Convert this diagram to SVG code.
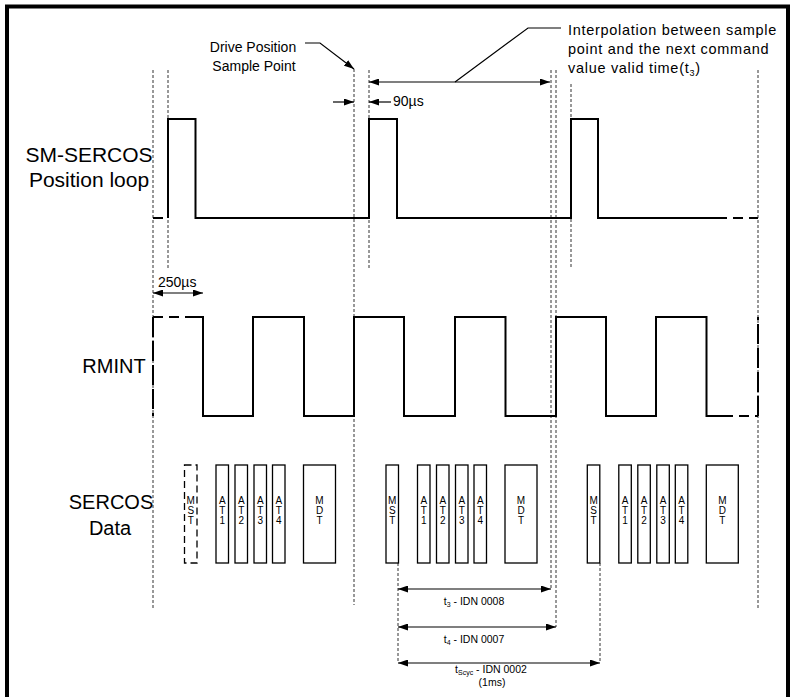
<svg xmlns="http://www.w3.org/2000/svg" width="794" height="697" viewBox="0 0 794 697">
<style>
text{font-family:"Liberation Sans",Arial,sans-serif;fill:#000}
.lbl{font-size:20px;text-anchor:middle}
.lbl2{font-size:21px;text-anchor:middle}
.note{font-size:14px}
.interp{font-size:14.5px;letter-spacing:0.7px}
.small{font-size:10.5px}
.box{fill:#fff;stroke:#000;stroke-width:1.3}
.boxd{fill:#fff;stroke:#000;stroke-width:1.3;stroke-dasharray:7 4}
.bt{font-size:10px;text-anchor:middle}
.guide{fill:none;stroke:#333;stroke-width:1;stroke-dasharray:3 2}
.sig{fill:none;stroke:#000;stroke-width:2}
.sigd{fill:none;stroke:#000;stroke-width:2;stroke-dasharray:10 6}
.sigl{fill:none;stroke:#000;stroke-width:2;stroke-dasharray:20 4}
.arr{fill:none;stroke:#000;stroke-width:1.2}
</style>
<defs>
<marker id="ah" viewBox="0 0 10 7" refX="10" refY="3.5" markerWidth="10" markerHeight="7" markerUnits="userSpaceOnUse" orient="auto-start-reverse"><path d="M0,0 L10,3.5 L0,7z" fill="#000"/></marker>
</defs>
<rect x="7" y="6.5" width="781" height="720" fill="none" stroke="#000" stroke-width="4"/>

<g id="guides">
<line class="guide" x1="153" y1="70" x2="153" y2="610"/>
<line class="guide" x1="168" y1="70" x2="168" y2="268"/>
<line class="guide" x1="354" y1="69" x2="354" y2="605"/>
<line class="guide" x1="369" y1="70" x2="369" y2="268"/>
<line class="guide" x1="551" y1="70" x2="551" y2="589"/>
<line class="guide" x1="556" y1="70" x2="556" y2="627"/>
<line class="guide" x1="571" y1="84" x2="571" y2="268"/>
<line class="guide" x1="758" y1="70" x2="758" y2="610"/>
<line class="guide" x1="398" y1="563" x2="398" y2="663"/>
<line class="guide" x1="600" y1="563" x2="600" y2="663"/>
</g>

<g id="labels">
<text class="lbl2" x="89" y="162">SM-SERCOS</text>
<text class="lbl2" x="89" y="187">Position loop</text>
<text class="lbl" x="114" y="373">RMINT</text>
<text class="lbl" x="111" y="509">SERCOS</text>
<text class="lbl" x="110" y="535">Data</text>
</g>

<g id="position-loop">
<path class="sigd" d="M153,218 H168"/>
<path class="sig" d="M168,218 V119 H195.5 V218 H369 V119 H397 V218 H571 V119 H598 V218 H717"/>
<path class="sigd" d="M717,218 H758"/>
</g>

<g id="rmint">
<path class="sigd" d="M153,317 H190"/>
<path class="sigl" d="M153,317 V416"/>
<path class="sig" d="M190,317 H203 V416 H253 V317 H304 V416 H354 V317 H404 V416 H455 V317 H505.5 V416 H556 V317 H606 V416 H656 V317 H706.5 V416 H723"/>
<path class="sigd" d="M723,416 H758"/>
<path class="sigl" d="M758,416 V317"/>
</g>

<g id="sercos-cycle-1">
<g id="mst-1"><rect class="boxd" x="184.5" y="465" width="12.5" height="98"/><text class="bt" x="190.75" y="504">M<tspan x="190.75" dy="10">S</tspan><tspan x="190.75" dy="10">T</tspan></text></g>
<g id="at1-1"><rect class="box" x="216" y="465" width="12.5" height="98"/><text class="bt" x="222.25" y="504">A<tspan x="222.25" dy="10">T</tspan><tspan x="222.25" dy="10">1</tspan></text></g>
<g id="at2-1"><rect class="box" x="235" y="465" width="12.5" height="98"/><text class="bt" x="241.25" y="504">A<tspan x="241.25" dy="10">T</tspan><tspan x="241.25" dy="10">2</tspan></text></g>
<g id="at3-1"><rect class="box" x="254" y="465" width="12.5" height="98"/><text class="bt" x="260.25" y="504">A<tspan x="260.25" dy="10">T</tspan><tspan x="260.25" dy="10">3</tspan></text></g>
<g id="at4-1"><rect class="box" x="272.5" y="465" width="12.5" height="98"/><text class="bt" x="278.75" y="504">A<tspan x="278.75" dy="10">T</tspan><tspan x="278.75" dy="10">4</tspan></text></g>
<g id="mdt-1"><rect class="box" x="303.5" y="465" width="32" height="98"/><text class="bt" x="319.5" y="504">M<tspan x="319.5" dy="10">D</tspan><tspan x="319.5" dy="10">T</tspan></text></g>
</g>

<g id="sercos-cycle-2">
<g id="mst-2"><rect class="box" x="386" y="465" width="12.5" height="98"/><text class="bt" x="392.25" y="504">M<tspan x="392.25" dy="10">S</tspan><tspan x="392.25" dy="10">T</tspan></text></g>
<g id="at1-2"><rect class="box" x="417.5" y="465" width="12.5" height="98"/><text class="bt" x="423.75" y="504">A<tspan x="423.75" dy="10">T</tspan><tspan x="423.75" dy="10">1</tspan></text></g>
<g id="at2-2"><rect class="box" x="436.5" y="465" width="12.5" height="98"/><text class="bt" x="442.75" y="504">A<tspan x="442.75" dy="10">T</tspan><tspan x="442.75" dy="10">2</tspan></text></g>
<g id="at3-2"><rect class="box" x="455.5" y="465" width="12.5" height="98"/><text class="bt" x="461.75" y="504">A<tspan x="461.75" dy="10">T</tspan><tspan x="461.75" dy="10">3</tspan></text></g>
<g id="at4-2"><rect class="box" x="474" y="465" width="12.5" height="98"/><text class="bt" x="480.25" y="504">A<tspan x="480.25" dy="10">T</tspan><tspan x="480.25" dy="10">4</tspan></text></g>
<g id="mdt-2"><rect class="box" x="505" y="465" width="32" height="98"/><text class="bt" x="521" y="504">M<tspan x="521" dy="10">D</tspan><tspan x="521" dy="10">T</tspan></text></g>
</g>

<g id="sercos-cycle-3">
<g id="mst-3"><rect class="box" x="587.3" y="465" width="12.5" height="98"/><text class="bt" x="593.55" y="504">M<tspan x="593.55" dy="10">S</tspan><tspan x="593.55" dy="10">T</tspan></text></g>
<g id="at1-3"><rect class="box" x="618.8" y="465" width="12.5" height="98"/><text class="bt" x="625.05" y="504">A<tspan x="625.05" dy="10">T</tspan><tspan x="625.05" dy="10">1</tspan></text></g>
<g id="at2-3"><rect class="box" x="637.8" y="465" width="12.5" height="98"/><text class="bt" x="644.05" y="504">A<tspan x="644.05" dy="10">T</tspan><tspan x="644.05" dy="10">2</tspan></text></g>
<g id="at3-3"><rect class="box" x="656.8" y="465" width="12.5" height="98"/><text class="bt" x="663.05" y="504">A<tspan x="663.05" dy="10">T</tspan><tspan x="663.05" dy="10">3</tspan></text></g>
<g id="at4-3"><rect class="box" x="675.3" y="465" width="12.5" height="98"/><text class="bt" x="681.55" y="504">A<tspan x="681.55" dy="10">T</tspan><tspan x="681.55" dy="10">4</tspan></text></g>
<g id="mdt-3"><rect class="box" x="706.3" y="465" width="32" height="98"/><text class="bt" x="722.3" y="504">M<tspan x="722.3" dy="10">D</tspan><tspan x="722.3" dy="10">T</tspan></text></g>
</g>

<g id="connectors">
<path class="arr" d="M305,43 H320 L354,69" marker-end="url(#ah)"/>
<path class="arr" d="M561,28 H528 L455,82"/>
<line class="arr" x1="369" y1="82" x2="550" y2="82" marker-start="url(#ah)" marker-end="url(#ah)"/>
<line class="arr" x1="333" y1="102" x2="354" y2="102" marker-end="url(#ah)"/>
<line class="arr" x1="391" y1="102" x2="369" y2="102" marker-end="url(#ah)"/>
<line class="arr" x1="153" y1="293" x2="203" y2="293" marker-start="url(#ah)" marker-end="url(#ah)"/>
<line class="arr" x1="398" y1="589" x2="551" y2="589" marker-start="url(#ah)" marker-end="url(#ah)"/>
<line class="arr" x1="398" y1="627" x2="556" y2="627" marker-start="url(#ah)" marker-end="url(#ah)"/>
<line class="arr" x1="398" y1="663" x2="600" y2="663" marker-start="url(#ah)" marker-end="url(#ah)"/>
</g>

<g id="annotations">
<text class="note" x="253" y="52" text-anchor="middle">Drive Position</text>
<text class="note" x="254" y="71" text-anchor="middle">Sample Point</text>
<text class="interp" x="568" y="35">Interpolation between sample</text>
<text class="interp" x="568" y="54">point and the next command</text>
<text class="interp" x="568" y="73">value valid time(t<tspan font-size="9" dy="3">3</tspan><tspan dy="-3">)</tspan></text>
<text class="note" x="393" y="106" font-size="13.5">90µs</text>
<text class="note" x="158" y="287">250µs</text>
<text class="small" x="474" y="605" text-anchor="middle">t<tspan font-size="7" dy="2">3</tspan><tspan dy="-2"> - IDN 0008</tspan></text>
<text class="small" x="474" y="643" text-anchor="middle">t<tspan font-size="7" dy="2">4</tspan><tspan dy="-2"> - IDN 0007</tspan></text>
<text class="small" x="491" y="673" text-anchor="middle">t<tspan font-size="7" dy="2">Scyc</tspan><tspan dy="-2"> - IDN 0002</tspan></text>
<text class="small" x="492" y="686" text-anchor="middle">(1ms)</text>
</g>
</svg>
